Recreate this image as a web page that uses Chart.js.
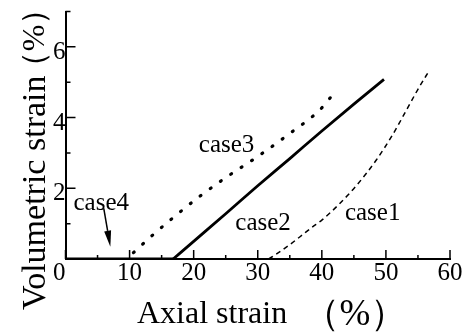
<!DOCTYPE html>
<html>
<head>
<meta charset="utf-8">
<title>Volumetric strain vs axial strain</title>
<script src="https://cdn.jsdelivr.net/npm/chart.js@4.4.1/dist/chart.umd.min.js"></script>
<style>
	html, body { margin: 0; padding: 0; background: #fff; }
	#chart { display: block; }
</style>
</head>
<body>
<canvas id="chart" width="463" height="332"></canvas>
<script>
// ── Data (axial % / volumetric %) ──────────────────────────────────────────

var case1Axial = [31.7, 33.0, 34.8, 36.6, 38.5, 40.0, 42.8, 45.5, 48.5, 51.0, 53.2, 55.0, 56.8];
var case1Vol   = [0.00, 0.15, 0.38, 0.63, 0.90, 1.10, 1.57, 2.10, 2.80, 3.50, 4.21, 4.80, 5.34];

var case2Axial = [16.8, 20.0, 25.0, 30.0, 35.0, 40.0, 45.0, 49.7];
var case2Vol   = [0.00, 0.50, 1.28, 2.07, 2.84, 3.62, 4.38, 5.08];

var case3Axial = [10.6, 13.5, 17.0, 21.0, 25.0, 30.0, 35.0, 39.7, 42.3];
var case3Vol   = [0.18, 0.66, 1.20, 1.78, 2.30, 2.90, 3.55, 4.22, 4.78];

var case4Axial = [0, 17];
var case4Vol   = [0, 0];

var xMajorTicks = [0, 10, 20, 30, 40, 50, 60];
var xMinorTicks = [5, 15, 25, 35, 45, 55];
var yMajorTicks = [2, 4, 6];
var yMinorTicks = [1, 3, 5, 7];

// Case labels: [text, axial, volumetric] (left / baseline)
var caseLabels = [
	['case1', 43.6, 1.10],
	['case2', 26.5, 0.82],
	['case3', 20.8, 3.03],
	['case4', 1.25, 1.39]
];
// Arrow for case4: from -> tip
var arrowCase4 = [[5.97, 1.43], [7.0, 0.35]];

var SERIF = "'Liberation Serif', 'Times New Roman', serif";

function pts(xs, ys) {
	return xs.map(function (x, i) { return { x: x, y: ys[i] }; });
}

// ── Plugins ────────────────────────────────────────────────────────────────

// Inward tick marks and tick labels on both axes.
var axisTicks = {
	id: 'axisTicks',
	afterDraw: function (chart) {
		var ctx = chart.ctx, xs = chart.scales.x, ys = chart.scales.y, a = chart.chartArea;
		ctx.save();
		ctx.strokeStyle = '#000';
		ctx.lineWidth = 1.5;
		ctx.beginPath();
		xMajorTicks.forEach(function (v) { var p = xs.getPixelForValue(v); ctx.moveTo(p, a.bottom); ctx.lineTo(p, a.bottom - 9); });
		xMinorTicks.forEach(function (v) { var p = xs.getPixelForValue(v); ctx.moveTo(p, a.bottom); ctx.lineTo(p, a.bottom - 4); });
		yMajorTicks.forEach(function (v) { var p = ys.getPixelForValue(v); ctx.moveTo(a.left, p); ctx.lineTo(a.left + 10, p); });
		yMinorTicks.forEach(function (v) { var p = ys.getPixelForValue(v); ctx.moveTo(a.left, p); ctx.lineTo(a.left + 5, p); });
		ctx.stroke();

		ctx.fillStyle = '#000';
		ctx.font = '25px ' + SERIF;
		ctx.textBaseline = 'alphabetic';
		xMajorTicks.forEach(function (v) {
			ctx.textAlign = v === 0 ? 'right' : 'center';
			ctx.fillText(String(v), xs.getPixelForValue(v), a.bottom + 21);
		});
		ctx.textAlign = 'right';
		yMajorTicks.forEach(function (v) {
			ctx.fillText(String(v), a.left, ys.getPixelForValue(v) + 12);
		});
		ctx.restore();
	}
};

// Case names, the case4 arrow and the two axis titles.
var annotations = {
	id: 'annotations',
	afterDraw: function (chart) {
		var ctx = chart.ctx, xs = chart.scales.x, ys = chart.scales.y;
		ctx.save();
		ctx.fillStyle = '#000';
		ctx.strokeStyle = '#000';

		ctx.font = '25px ' + SERIF;
		ctx.textAlign = 'left';
		ctx.textBaseline = 'alphabetic';
		caseLabels.forEach(function (l) {
			ctx.fillText(l[0], xs.getPixelForValue(l[1]), ys.getPixelForValue(l[2]));
		});

		// arrow
		var x0 = xs.getPixelForValue(arrowCase4[0][0]), y0 = ys.getPixelForValue(arrowCase4[0][1]);
		var x1 = xs.getPixelForValue(arrowCase4[1][0]), y1 = ys.getPixelForValue(arrowCase4[1][1]);
		var ang = Math.atan2(y1 - y0, x1 - x0), hl = 16, hw = 3.5;
		var bx = x1 - hl * Math.cos(ang), by = y1 - hl * Math.sin(ang);
		ctx.lineWidth = 1.5;
		ctx.beginPath();
		ctx.moveTo(x0, y0);
		ctx.lineTo(bx, by);
		ctx.stroke();
		ctx.beginPath();
		ctx.moveTo(x1, y1);
		ctx.lineTo(bx + hw * Math.sin(ang), by - hw * Math.cos(ang));
		ctx.lineTo(bx - hw * Math.sin(ang), by + hw * Math.cos(ang));
		ctx.closePath();
		ctx.fill();

		// x title
		ctx.font = '32px ' + SERIF;
		ctx.textAlign = 'left';
		ctx.fillText('Axial strain', 137, 323);
		ctx.font = '37px ' + SERIF;
		ctx.textAlign = 'center';
		ctx.fillText('\uFF08%\uFF09', 355, 325);

		// y title
		ctx.save();
		ctx.translate(45, 310);
		ctx.rotate(-Math.PI / 2);
		ctx.font = '34px ' + SERIF;
		ctx.textAlign = 'left';
		ctx.fillText('Volumetric strain', 0, 0);
		ctx.restore();

		ctx.translate(44, 38);
		ctx.rotate(-Math.PI / 2);
		ctx.font = '32px ' + SERIF;
		ctx.textAlign = 'center';
		ctx.fillText('\uFF08%\uFF09', 0, 0);
		ctx.restore();
	}
};

// ── Chart ──────────────────────────────────────────────────────────────────

new Chart(document.getElementById('chart'), {
	type: 'line',
	data: {
		datasets: [
			{ label: 'case1', data: pts(case1Axial, case1Vol), borderColor: '#000', borderWidth: 1.5, borderDash: [5, 4], cubicInterpolationMode: 'monotone' },
			{ label: 'case2', data: pts(case2Axial, case2Vol), borderColor: '#000', borderWidth: 2.8, cubicInterpolationMode: 'monotone' },
			{ label: 'case3', data: pts(case3Axial, case3Vol), borderColor: '#000', borderWidth: 3.2, borderCapStyle: 'round', borderDash: [1, 11.5], cubicInterpolationMode: 'monotone' },
			{ label: 'case4', data: pts(case4Axial, case4Vol), borderColor: '#000', borderWidth: 3 }
		]
	},
	options: {
		responsive: false,
		animation: false,
		devicePixelRatio: 1,
		elements: { point: { radius: 0 } },
		layout: { padding: { left: 0, right: 13, top: 11.5, bottom: 0 } },
		plugins: { legend: { display: false }, tooltip: { enabled: false } },
		scales: {
			x: {
				type: 'linear',
				min: 0,
				max: 60,
				grid: { display: false, drawTicks: false },
				border: { display: true, color: '#000', width: 2 },
				ticks: { display: false, stepSize: 10 },
				afterFit: function (s) { s.height = 73; }
			},
			y: {
				type: 'linear',
				min: 0,
				max: 7,
				grid: { display: false, drawTicks: false },
				border: { display: true, color: '#000', width: 2 },
				ticks: { display: false, stepSize: 1 },
				afterFit: function (s) { s.width = 65.5; }
			}
		}
	},
	plugins: [axisTicks, annotations]
});
</script>
</body>
</html>
